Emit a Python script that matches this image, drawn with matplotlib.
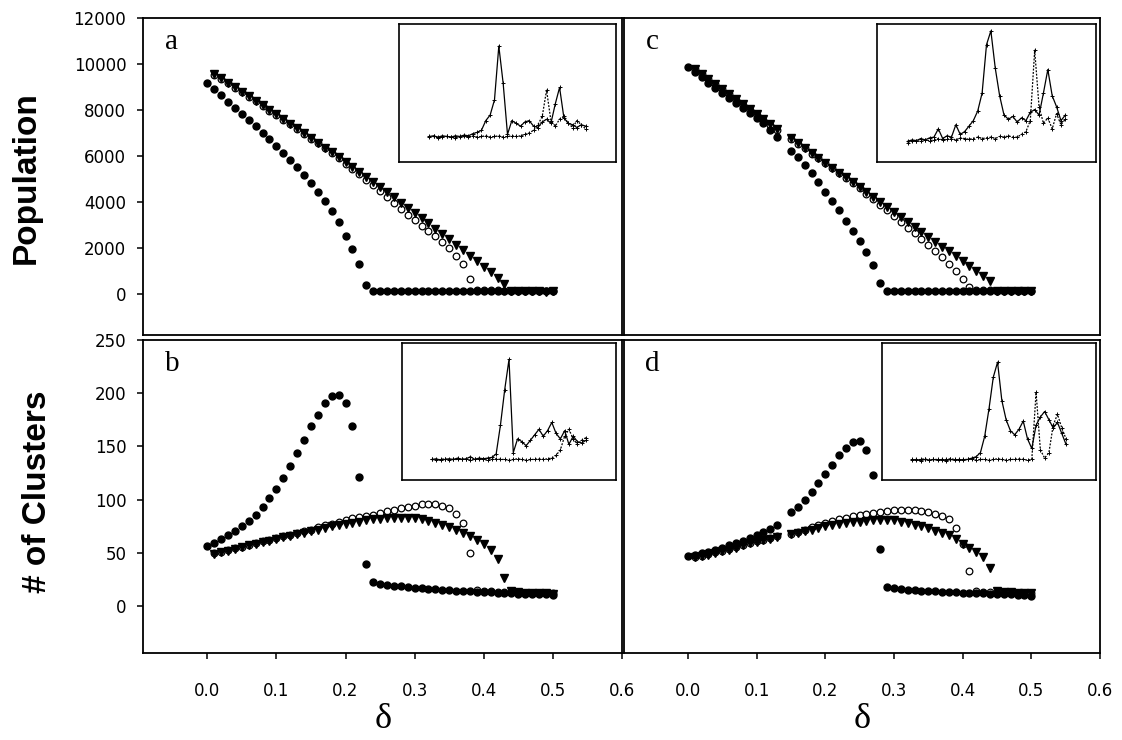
import matplotlib
matplotlib.use("Agg")
import matplotlib.pyplot as plt

W, H = 1122, 740

# delta grid, step 0.01 (right-hand runs have no point at 0.14)
d_left_fill = [i / 100 for i in range(0, 51)]
d_left = [i / 100 for i in range(1, 51)]
d_right_fill = [i / 100 for i in range(0, 51) if i != 14]
d_right = [i / 100 for i in range(1, 51) if i != 14]

# panel a: population
pop_a_fill = [9170, 8900, 8630, 8360, 8090, 7820, 7550, 7280, 7010, 6730,
              6440, 6140, 5830, 5500, 5160, 4800, 4420, 4020, 3600, 3100,
              2500, 1950, 1280, 380, 120,
              110, 105, 100, 110, 95, 100, 105, 100, 110, 100, 95, 105, 100,
              100, 110, 95, 100, 105, 100, 95, 100, 110, 100, 95, 100, 105]
pop_a_open = [9535, 9344, 9152, 8958, 8764, 8568, 8371, 8172, 7972, 7772,
              7570, 7366, 7161, 6955, 6748, 6539, 6329, 6118, 5906,
              5650, 5420, 5190, 4950, 4710, 4460, 4210, 3960, 3700, 3420,
              3190, 2960, 2730, 2490, 2240, 1970, 1660, 1290, 650, 170,
              150, 140, 150, 130, 120, 110, 115, 110, 105, 110, 110]
pop_a_tri = [9565, 9374, 9182, 8988, 8794, 8598, 8401, 8202, 8002, 7802,
             7600, 7396, 7191, 6985, 6778, 6569, 6359, 6148, 5936, 5722,
             5507, 5290, 5073, 4855, 4635, 4413, 4190, 3967, 3742, 3516,
             3287, 3059, 2829, 2598, 2365, 2130, 1895, 1659, 1422, 1182,
             942, 700, 420, 130, 100, 95, 105, 100, 90, 100]

# panel c: population
pop_c_fill = [9850, 9630, 9410, 9190, 8970, 8750, 8530, 8310, 8090, 7870,
              7640, 7410, 7130, 6800,
              6230, 5930, 5620, 5260, 4870, 4440, 4040, 3640, 3170, 2720,
              2280, 1800, 1250, 480, 130,
              110, 100, 105, 100, 95, 110, 100, 105, 100, 95, 100, 110, 100,
              105, 95, 100, 105, 100, 110, 100, 100]
pop_c_open = [9780, 9560, 9340, 9120, 8900, 8680, 8450, 8230, 8010, 7790,
              7570, 7350, 7130,
              6750, 6530, 6320, 6100, 5890, 5670, 5460, 5240, 5030, 4810,
              4600, 4350, 4110, 3870, 3620, 3370, 3110, 2860, 2620, 2370,
              2120, 1870, 1600, 1300, 1000, 650, 300, 150, 140, 150, 120,
              125, 120, 115, 120, 120]
pop_c_tri = [9800, 9580, 9360, 9140, 8920, 8700, 8470, 8250, 8030, 7810,
             7590, 7370, 7150,
             6780, 6560, 6350, 6130, 5920, 5700, 5490, 5270, 5060, 4840,
             4630, 4410, 4200, 3990, 3770, 3560, 3340, 3130, 2910, 2700,
             2480, 2270, 2050, 1840, 1620, 1410, 1190, 980, 770, 550,
             130, 100, 110, 100, 95, 105]

# panel b: number of clusters
cl_b_fill = [56.5, 59.5, 63, 66.5, 70.5, 75, 80, 86, 93.5, 102,
             110, 120, 132, 144, 156, 169, 180, 191, 197.5, 198.5,
             191, 169, 121, 39.5, 22.5,
             21, 20, 19, 18.5, 18, 17.5, 17, 16.5, 16, 15.5, 15, 14.5, 14,
             14, 13.5, 13, 13, 12.5, 12, 12, 11.5, 11.5, 11, 11, 11, 10.5]
cl_b_open = [49.5, 51, 52.5, 54.5, 56, 57.5, 59, 61, 62.5, 64,
             65.5, 67, 69, 70.5, 72, 74, 76, 77.5, 79, 81,
             82.5, 84, 85, 86, 87.5, 89, 90.5, 92, 93.5, 94.5,
             95.5, 96, 96, 94.5, 92, 86.5, 78, 49.5, 15, 14,
             14, 13.5, 13, 13, 12.5, 12.5, 12, 12, 12, 12]
cl_b_tri = [49, 50.5, 52, 54, 55.5, 57, 58.5, 60, 61.5, 63,
            64.5, 66, 67.5, 69, 70.5, 72, 73.5, 75, 76.5, 77.5,
            78.5, 79.5, 80.5, 81.5, 82, 82.5, 83, 83, 83, 82.5,
            81.5, 80, 78, 76, 74, 71.5, 69, 66, 62, 58,
            53, 44, 26, 14, 13, 12.5, 12.5, 12, 12, 11.5]

# panel d: number of clusters
cl_d_fill = [47, 48, 49.5, 51, 53, 55, 57, 59, 61.5, 64, 66.5, 69.5, 72.5, 76,
             88, 93.5, 100, 107.5, 116, 124, 133, 142, 149, 154, 155, 147,
             123, 54, 18,
             17, 16, 15.5, 15, 14.5, 14, 14, 13.5, 13, 13, 12.5, 12.5, 12,
             12, 11.5, 11.5, 11, 11, 10.5, 10.5, 10]
cl_d_open = [46.5, 47.5, 49, 50.5, 52, 53.5, 55.5, 57.5, 59.5, 61, 62.5, 64,
             65.5,
             68, 70, 72, 74, 76, 78, 80, 81.5, 83, 84.5, 85.5, 86.5, 87.5,
             88.5, 89.5, 90, 90.5, 90.5, 90, 89.5, 88.5, 87, 85, 81.5, 73,
             58, 33, 14, 13.5, 13, 13, 12.5, 12.5, 12, 12, 12]
cl_d_tri = [46, 47, 48.5, 50, 51.5, 53, 55, 57, 59, 60.5, 62, 63.5, 65,
            67.5, 69, 70.5, 72, 73.5, 75, 76, 77, 78, 79, 79.5, 80, 80.5,
            81, 81, 80.5, 79.5, 78, 76.5, 75, 73, 71, 69, 66.5, 63, 58.5,
            55, 51, 46, 36, 14, 13, 13, 12.5, 12.5, 12]

# insets (arbitrary units, 0-100 box)
ins_x = [14 + 2 * i for i in range(37)]
ins_a_solid = [18.5, 19, 18, 19, 18.5, 18, 19, 18.5, 19.5, 19, 20.5, 21.5,
               23, 30, 34, 45, 84, 57, 20, 30, 28, 26, 29, 30, 26, 25, 29,
               31, 28, 42, 54, 32, 28, 27, 25, 27, 26]
ins_a_dot = [18, 18.5, 17.5, 18, 18.5, 18, 17.5, 18, 18.5, 18, 19, 18, 18.5,
             19, 18, 18.5, 19, 18, 18.5, 19, 18.5,
             19, 20, 21, 23, 27, 33, 52, 30, 26, 31, 33, 28, 25, 30, 27, 24]
ins_b_solid = [15, 15.5, 14.5, 15, 15.5, 15, 16, 15, 15.5, 17, 15, 16, 15.5,
               16, 16.5, 19, 40, 66, 88, 20, 30, 28, 25, 29, 33, 37, 32, 36,
               42, 34, 30, 36, 26, 32, 28, 27, 29]
ins_b_dot = [15, 14.5, 15, 15.5, 14.5, 15, 15, 15.5, 15, 14.5, 15, 15.5, 15,
             14.5, 15, 15.5, 15, 15, 14.5, 15, 15.5, 15, 14.5, 15, 15, 15.5,
             15, 15.5,
             16, 18, 22, 32, 37, 30, 26, 29, 31]
ins_c_solid = [15, 16, 15.5, 17, 16, 17.5, 18, 24, 17, 19, 18, 27, 20, 22,
               26, 30, 37, 50, 85, 95, 68, 48, 34, 31, 33, 29, 32, 30, 36,
               38, 34, 50, 67, 48, 40, 30, 34]
ins_c_dot = [14, 15, 15.5, 15, 16, 15.5, 16, 17, 16, 16.5, 17, 16, 17.5, 17,
             16.5, 17, 18, 17, 17.5, 18, 17, 18.5, 18, 19, 18,
             18, 20, 22, 30, 81, 40, 28, 32, 24, 35, 27, 31]
ins_d_solid = [14.5, 15, 14, 15, 14.5, 15, 14.5, 15, 14, 15, 14.5, 15, 14.5,
               15, 16, 17, 20, 32, 52, 75, 86, 58, 44, 36, 33, 37, 43, 30,
               23, 40, 46, 50, 44, 38, 42, 34, 26]
ins_d_dot = [15, 14.5, 15, 15.5, 14.5, 15, 15, 14.5, 15, 15.5, 15, 14.5, 15,
             15, 15.5, 14.5, 15, 15, 14.5, 15, 15.5, 15, 14.5, 15, 15, 15.5,
             15, 14.5, 15,
             64, 22, 16, 20, 40, 48, 38, 30]


def box(x0, y0, x1, y1):
    # pixel box (top-left origin) -> figure fraction rect
    return [x0 / W, 1 - y1 / H, (x1 - x0) / W, (y1 - y0) / H]


fill_kw = dict(ls="none", marker="o", ms=5.0, color="black")
open_kw = dict(ls="none", marker="o", ms=4.8, mfc="white", mec="black", mew=0.9)
tri_kw = dict(ls="none", marker="v", ms=5.4, color="black")

fig = plt.figure(figsize=(W / 100, H / 100), dpi=100)

ax_a = fig.add_axes(box(143, 18, 622, 335))
ax_c = fig.add_axes(box(624, 18, 1100, 335))
ax_b = fig.add_axes(box(143, 340, 622, 653))
ax_d = fig.add_axes(box(624, 340, 1100, 653))

panels = [
    (ax_a, d_left_fill, pop_a_fill, d_left, pop_a_open, pop_a_tri, "a"),
    (ax_c, d_right_fill, pop_c_fill, d_right, pop_c_open, pop_c_tri, "c"),
    (ax_b, d_left_fill, cl_b_fill, d_left, cl_b_open, cl_b_tri, "b"),
    (ax_d, d_right_fill, cl_d_fill, d_right, cl_d_open, cl_d_tri, "d"),
]

for ax, xf, yf, xo, yo, yt, letter in panels:
    ax.plot(xo, yo, **open_kw)
    ax.plot(xo, yt, **tri_kw)
    ax.plot(xf, yf, **fill_kw)
    ax.set_xlim(-0.093, 0.6)
    for s in ax.spines.values():
        s.set_linewidth(1.3)
    ax.tick_params(direction="out", length=4, width=1.1, labelsize=12,
                   colors="black")
    ax.text(0.045, 0.965, letter, transform=ax.transAxes, va="top", ha="left",
            fontsize=21, family="Liberation Serif")

for ax in (ax_a, ax_c):
    ax.set_ylim(-1800, 12000)
    ax.set_yticks(range(0, 12001, 2000))
    ax.set_xticks([])
for ax in (ax_b, ax_d):
    ax.set_ylim(-44, 250)
    ax.set_yticks(range(0, 251, 50))
    ax.set_xticks([0.0, 0.1, 0.2, 0.3, 0.4, 0.5, 0.6])
    ax.set_xticklabels(["0.0", "0.1", "0.2", "0.3", "0.4", "0.5", "0.6"],
                       family="DejaVu Sans")
    ax.tick_params(axis="x", pad=17)
for ax in (ax_c, ax_d):
    ax.set_yticks([])
for ax in (ax_a, ax_b):
    ax.tick_params(axis="y", pad=8)
    for lab in ax.get_yticklabels():
        lab.set_family("DejaVu Sans")

insets = [
    ((399, 24, 616, 162), ins_a_solid, ins_a_dot),
    ((877, 24, 1096, 162), ins_c_solid, ins_c_dot),
    ((402, 343, 616, 480), ins_b_solid, ins_b_dot),
    ((882, 343, 1096, 480), ins_d_solid, ins_d_dot),
]
for rect, ys, yd in insets:
    ia = fig.add_axes(box(*rect))
    ia.plot(ins_x, yd, color="black", lw=0.9, ls=(0, (1.5, 1.2)),
            marker="+", ms=3, mew=0.7)
    ia.plot(ins_x, ys, color="black", lw=0.9, marker="+", ms=3, mew=0.7)
    ia.set_xlim(0, 100)
    ia.set_ylim(0, 100)
    ia.set_xticks([])
    ia.set_yticks([])
    for s in ia.spines.values():
        s.set_linewidth(1.2)

fig.text(26 / W, 1 - 178 / H, "Population", rotation=90, ha="center",
         va="center", fontsize=24, fontweight="bold", family="Liberation Sans")
fig.text(38 / W, 1 - 492 / H, "# of Clusters", rotation=90, ha="center",
         va="center", fontsize=24, fontweight="bold", family="Liberation Sans")
fig.text(383 / W, 1 - 720 / H, "δ", ha="center", va="center", fontsize=26,
         family="Liberation Serif")
fig.text(862 / W, 1 - 720 / H, "δ", ha="center", va="center", fontsize=26,
         family="Liberation Serif")

fig.savefig("out.png", dpi=100)
plt.close(fig)
